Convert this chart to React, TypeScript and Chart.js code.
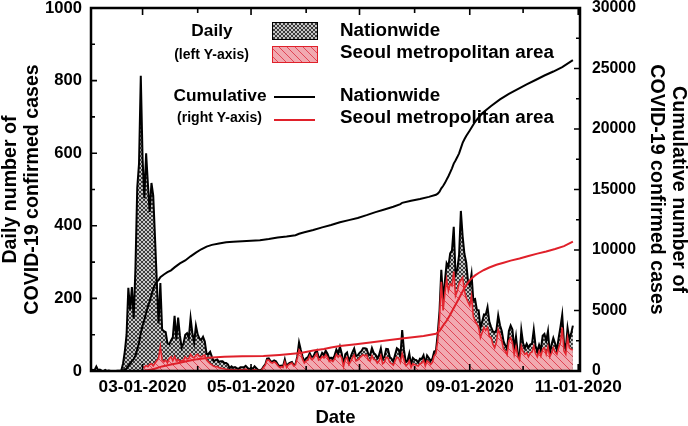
import React, { useEffect, useRef } from 'react';
import { Chart, registerables } from 'chart.js';

Chart.register(...registerables);

const FONT = "'Liberation Sans', Arial, Helvetica, sans-serif";

// x values are day numbers counted from 02-01-2020 (day 0)
const xMin = 0;
const xMax = 275;
const monthStartDays = [29, 60, 90, 121, 151, 182, 213, 243, 274];
const dateTickDays = [29, 90, 151, 213, 274];
const dateTickLabels = ['03-01-2020', '05-01-2020', '07-01-2020', '09-01-2020', '11-01-2020'];
const leftTickValues = [0, 200, 400, 600, 800, 1000];
const leftMinorTicks = [100, 300, 500, 700, 900];
const rightTickValues = [0, 5000, 10000, 15000, 20000, 25000, 30000];
const rightMinorTicks = [2500, 7500, 12500, 17500, 22500, 27500];

// Daily confirmed cases, nationwide (from day 0 = Feb 1)
const nationStartDay = 0;
const nationDaily = [
  // Feb
  1, 3, 2, 12, 2, 4, 1, 0, 3, 0, 1, 0, 0, 0, 0, 1, 1, 1, 20, 53, 100, 229, 169, 231, 144, 284, 505, 571, 813,
  // Mar
  586, 476, 600, 516, 438, 518, 483, 367, 248, 131, 242, 114, 110, 107, 76, 74, 84, 93, 152, 87, 147, 98, 64, 76, 100, 104, 91, 146, 105, 78, 125,
  // Apr
  101, 89, 86, 94, 81, 47, 47, 53, 39, 27, 30, 32, 25, 27, 27, 22, 22, 18, 8, 13, 9, 11, 8, 6, 10, 10, 10, 14, 9, 4,
  // May
  9, 6, 13, 8, 3, 2, 4, 12, 18, 34, 35, 27, 26, 29, 27, 19, 13, 15, 13, 32, 12, 20, 23, 25, 16, 19, 40, 79, 58, 39, 27,
  // Jun
  35, 38, 49, 39, 39, 51, 57, 38, 38, 50, 45, 56, 48, 34, 37, 34, 43, 59, 49, 67, 48, 17, 46, 51, 28, 39, 51, 62, 42, 43,
  // Jul
  50, 54, 63, 63, 61, 46, 44, 63, 50, 45, 35, 44, 62, 33, 39, 61, 60, 39, 34, 26, 45, 63, 59, 41, 113, 58, 25, 28, 48, 18, 36,
  // Aug
  31, 30, 23, 34, 33, 43, 20, 43, 36, 28, 34, 54, 56, 103, 166, 279, 197, 246, 297, 288, 324, 332, 397, 266, 280, 320, 441, 371, 323, 299, 248,
  // Sep
  235, 267, 195, 198, 168, 167, 119, 136, 156, 155, 176, 136, 121, 109, 106, 113, 153, 126, 110, 82, 70, 61, 110, 125, 114, 61, 95, 50, 38, 113,
  // Oct
  77, 63, 75, 64, 73, 75, 114, 69, 54, 72, 58, 97, 102, 84, 110, 47, 73, 91, 76, 58, 91, 121, 155, 77, 61, 119, 88, 103, 125,
];

// Daily confirmed cases, Seoul metropolitan area (from day 29 = Mar 1)
const seoulStartDay = 29;
const seoulDaily = [
  // Mar
  12, 10, 15, 12, 18, 20, 14, 22, 28, 35, 67, 30, 25, 30, 22, 35, 39, 28, 40, 28, 32, 26, 28, 30, 39, 33, 35, 46, 39, 36, 44,
  // Apr
  46, 40, 39, 42, 44, 30, 25, 20, 17, 13, 12, 12, 9, 8, 7, 6, 5, 4, 3, 4, 3, 4, 3, 2, 4, 3, 4, 5, 3, 2,
  // May
  3, 2, 4, 3, 1, 1, 2, 10, 16, 30, 30, 24, 22, 25, 22, 15, 10, 12, 10, 25, 10, 17, 20, 22, 14, 17, 35, 58, 50, 32, 22,
  // Jun
  28, 30, 42, 32, 34, 42, 48, 30, 33, 40, 36, 45, 38, 26, 30, 26, 34, 46, 38, 44, 36, 12, 32, 38, 18, 26, 36, 44, 28, 30,
  // Jul
  36, 40, 45, 42, 44, 30, 28, 42, 32, 30, 22, 28, 42, 20, 24, 38, 36, 24, 20, 16, 28, 38, 35, 24, 48, 30, 15, 18, 28, 10, 20,
  // Aug
  18, 16, 14, 20, 22, 30, 14, 28, 24, 18, 24, 42, 48, 85, 146, 246, 167, 214, 253, 221, 240, 235, 274, 207, 220, 242, 250, 258, 221, 202, 190,
  // Sep
  180, 207, 150, 138, 130, 120, 92, 106, 120, 112, 120, 95, 92, 74, 64, 80, 115, 101, 83, 60, 55, 45, 83, 92, 78, 45, 67, 39, 30, 69,
  // Oct
  53, 46, 50, 39, 50, 52, 69, 48, 39, 55, 41, 60, 64, 46, 67, 39, 50, 64, 52, 46, 64, 78, 120, 55, 46, 92, 64, 60, 58,
];

// Cumulative confirmed cases, nationwide (right axis)
const cumNationDays = [
  17, 18, 19, 20, 21, 22, 23, 24, 25, 26, 27, 28, 29, 30, 31, 32, 33, 34, 35, 36, 37, 38, 39, 41, 43, 45, 47, 50, 53, 56, 59,
  62, 65, 68, 72, 76, 80, 85, 90, 95, 100, 105, 110, 115, 117, 120, 125, 130, 135, 140, 145, 150, 155, 160, 165, 170, 174,
  175, 180, 185, 190, 194, 195, 196, 197, 198, 199, 200, 201, 202, 203, 204, 205, 206, 207, 208, 209, 210, 211, 212, 213,
  216, 220, 225, 230, 235, 240, 245, 250, 255, 260, 265, 271,
];
const cumNationValues = [
  31, 51, 104, 204, 433, 602, 833, 977, 1261, 1766, 2337, 3150, 3736, 4212, 4812, 5328, 5766, 6284, 6767, 7134, 7382, 7513, 7755, 7979, 8162, 8320, 8565, 8897, 9137, 9478, 9786,
  10062, 10284, 10423, 10537, 10635, 10683, 10728, 10774, 10806, 10909, 11037, 11122, 11225, 11344, 11468, 11650, 11870, 12060, 12290, 12470, 12650, 12880, 13130, 13350, 13580, 13790,
  13900, 14070, 14220, 14390, 14560, 14660, 14820, 15100, 15290, 15530, 15820, 16100, 16420, 16750, 17140, 17400, 17680, 17990, 18420, 18850, 19150, 19420, 19650, 19870,
  20600, 21300, 21900, 22450, 22900, 23300, 23680, 24050, 24420, 24750, 25120, 25690,
];

// Cumulative confirmed cases, Seoul metropolitan area (right axis)
const cumSeoulDays = [
  29, 35, 40, 45, 50, 55, 60, 66, 75, 85, 97, 106, 112, 118, 125, 131, 135, 140, 149, 157, 168, 176, 187, 194,
  196, 198, 200, 202, 204, 206, 208, 210, 212, 214, 216, 218, 221, 224, 228, 232, 236, 241, 246, 251, 256, 261, 266, 271,
];
const cumSeoulValues = [
  0, 150, 380, 530, 680, 840, 980, 1100, 1170, 1210, 1240, 1330, 1400, 1480, 1690, 1820, 1950, 2060, 2210, 2350, 2560, 2710, 2900, 3080,
  3300, 3750, 4150, 4650, 5200, 5750, 6300, 6850, 7300, 7650, 7900, 8100, 8350, 8550, 8780, 8950, 9120, 9300, 9500, 9700, 9880, 10080, 10320, 10690,
];

function makeCrossPattern(ctx: CanvasRenderingContext2D) {
  const c = document.createElement('canvas');
  c.width = 4;
  c.height = 4;
  const g = c.getContext('2d')!;
  g.fillStyle = '#c6c6c6';
  g.fillRect(0, 0, 4, 4);
  g.fillStyle = '#3a3a3a';
  for (let i = 0; i < 4; i++) {
    g.fillRect(i, i, 1, 1);
    g.fillRect(3 - i, i, 1, 1);
  }
  return ctx.createPattern(c, 'repeat')!;
}

function makeHatchPattern(ctx: CanvasRenderingContext2D) {
  const s = 8;
  const c = document.createElement('canvas');
  c.width = s;
  c.height = s;
  const g = c.getContext('2d')!;
  g.fillStyle = '#f1a9b0';
  g.fillRect(0, 0, s, s);
  g.strokeStyle = '#e04455';
  g.lineWidth = 1;
  for (const k of [-s, 0, s]) {
    g.beginPath();
    g.moveTo(k - 1, -1);
    g.lineTo(k + s + 1, s + 1);
    g.stroke();
  }
  return ctx.createPattern(c, 'repeat')!;
}

export default function App() {
  const ref = useRef<HTMLCanvasElement | null>(null);

  useEffect(() => {
    const canvas = ref.current!;
    const ctx0 = canvas.getContext('2d')!;
    const grayPattern = makeCrossPattern(ctx0);
    const pinkPattern = makeHatchPattern(ctx0);

    const nationPts = nationDaily.map((v, i) => ({ x: nationStartDay + i, y: v }));
    const seoulPts = seoulDaily.map((v, i) => ({ x: seoulStartDay + i, y: v }));
    const cumNationPts = cumNationDays.map((d, i) => ({ x: d, y: cumNationValues[i] }));
    const cumSeoulPts = cumSeoulDays.map((d, i) => ({ x: d, y: cumSeoulValues[i] }));

    const framePlugin = {
      id: 'frameTicksLegend',
      afterDraw(chart: any) {
        const { ctx, chartArea: a, scales } = chart;
        const sx = scales.x;
        const sy = scales.y;
        const sy2 = scales.y2;
        ctx.save();
        ctx.strokeStyle = '#000';
        ctx.lineWidth = 1.6;
        ctx.beginPath();
        for (const d of monthStartDays) {
          const px = sx.getPixelForValue(d);
          const major = dateTickDays.includes(d);
          const len = major ? 7 : 5;
          ctx.moveTo(px, a.bottom);
          ctx.lineTo(px, a.bottom - len);
          ctx.moveTo(px, a.top);
          ctx.lineTo(px, a.top + len);
        }
        for (const v of leftTickValues.concat(leftMinorTicks)) {
          const py = sy.getPixelForValue(v);
          const len = leftTickValues.includes(v) ? 6 : 4;
          ctx.moveTo(a.left, py);
          ctx.lineTo(a.left + len, py);
        }
        for (const v of rightTickValues.concat(rightMinorTicks)) {
          const py = sy2.getPixelForValue(v);
          const len = rightTickValues.includes(v) ? 6 : 4;
          ctx.moveTo(a.right, py);
          ctx.lineTo(a.right - len, py);
        }
        ctx.stroke();
        ctx.lineWidth = 2.5;
        ctx.strokeRect(a.left, a.top, a.right - a.left, a.bottom - a.top);

        // legend
        ctx.fillStyle = '#000';
        ctx.textBaseline = 'alphabetic';
        ctx.textAlign = 'center';
        ctx.font = `bold 17.3px ${FONT}`;
        ctx.fillText('Daily', 212, 36);
        ctx.fillText('Cumulative', 220, 100.5);
        ctx.font = `bold 14px ${FONT}`;
        ctx.fillText('(left Y-axis)', 211.5, 59);
        ctx.fillText('(right Y-axis)', 219.5, 122);

        ctx.fillStyle = grayPattern;
        ctx.fillRect(272, 22, 46, 18);
        ctx.lineWidth = 1;
        ctx.strokeStyle = '#000';
        ctx.strokeRect(272.5, 22.5, 45, 17);
        ctx.fillStyle = pinkPattern;
        ctx.fillRect(272, 46, 46, 17);
        ctx.strokeStyle = '#e0202a';
        ctx.strokeRect(272.5, 46.5, 45, 16);

        ctx.lineWidth = 2;
        ctx.strokeStyle = '#000';
        ctx.beginPath();
        ctx.moveTo(274, 97);
        ctx.lineTo(315, 97);
        ctx.stroke();
        ctx.strokeStyle = '#e0202a';
        ctx.beginPath();
        ctx.moveTo(274, 120);
        ctx.lineTo(315, 120);
        ctx.stroke();

        ctx.fillStyle = '#000';
        ctx.textAlign = 'left';
        ctx.font = `bold 18.8px ${FONT}`;
        ctx.fillText('Nationwide', 340, 35.5);
        ctx.fillText('Seoul metropolitan area', 340, 58);
        ctx.fillText('Nationwide', 340, 100.5);
        ctx.fillText('Seoul metropolitan area', 340, 122.5);
        ctx.restore();
      },
    };

    const chart = new Chart(canvas, {
      type: 'line',
      data: {
        datasets: [
          {
            label: 'Cumulative Seoul metropolitan area',
            data: cumSeoulPts,
            yAxisID: 'y2',
            borderColor: '#e0202a',
            borderWidth: 2,
            pointRadius: 0,
            fill: false,
            order: 1,
          },
          {
            label: 'Cumulative Nationwide',
            data: cumNationPts,
            yAxisID: 'y2',
            borderColor: '#000',
            borderWidth: 2,
            pointRadius: 0,
            fill: false,
            order: 2,
          },
          {
            label: 'Daily Seoul metropolitan area',
            data: seoulPts,
            yAxisID: 'y',
            borderColor: '#e3262f',
            borderWidth: 1.6,
            backgroundColor: pinkPattern,
            pointRadius: 0,
            fill: 'origin',
            order: 3,
          },
          {
            label: 'Daily Nationwide',
            data: nationPts,
            yAxisID: 'y',
            borderColor: '#000',
            borderWidth: 2,
            backgroundColor: grayPattern,
            pointRadius: 0,
            fill: 'origin',
            order: 4,
          },
        ],
      },
      options: {
        animation: false,
        responsive: false,
        devicePixelRatio: 1,
        events: [],
        layout: { autoPadding: false, padding: { top: 8, left: 0, right: 0, bottom: 0 } },
        elements: { line: { tension: 0 } },
        plugins: { legend: { display: false }, tooltip: { enabled: false } },
        scales: {
          x: {
            type: 'linear',
            min: xMin,
            max: xMax,
            grid: { display: false, drawTicks: false },
            border: { display: false },
            afterBuildTicks: (s: any) => {
              s.ticks = dateTickDays.map((v) => ({ value: v }));
            },
            afterFit: (s: any) => {
              s.height = 55;
              s.paddingLeft = 0;
              s.paddingRight = 0;
            },
            ticks: {
              autoSkip: false,
              maxRotation: 0,
              minRotation: 0,
              padding: 6,
              color: '#000',
              font: { family: FONT, size: 17.2, weight: 'bold' },
              callback: (_v: any, i: number) => dateTickLabels[i],
            },
            title: {
              display: true,
              text: 'Date',
              color: '#000',
              font: { family: FONT, size: 18.5, weight: 'bold', lineHeight: 1 },
              padding: { top: 0, bottom: -1.2 },
            },
          },
          y: {
            type: 'linear',
            position: 'left',
            min: 0,
            max: 1000,
            grid: { display: false, drawTicks: false },
            border: { display: false },
            afterBuildTicks: (s: any) => {
              s.ticks = leftTickValues.map((v) => ({ value: v }));
            },
            afterFit: (s: any) => {
              s.width = 91;
              s.paddingTop = 0;
              s.paddingBottom = 0;
            },
            ticks: {
              padding: 9,
              color: '#000',
              font: { family: FONT, size: 16.6, weight: 'bold' },
              callback: (v: any) => String(v),
            },
            title: {
              display: true,
              text: ['Daily number of', 'COVID-19 confirmed cases'],
              color: '#000',
              font: { family: FONT, size: 19.6, weight: 'bold', lineHeight: 1.12 },
              padding: { top: 0, bottom: 0 },
            },
          },
          y2: {
            type: 'linear',
            position: 'right',
            min: 0,
            max: 30000,
            grid: { display: false, drawTicks: false },
            border: { display: false },
            afterBuildTicks: (s: any) => {
              s.ticks = rightTickValues.map((v) => ({ value: v }));
            },
            afterFit: (s: any) => {
              s.width = 108;
              s.paddingTop = 0;
              s.paddingBottom = 0;
            },
            ticks: {
              padding: 12,
              color: '#000',
              font: { family: FONT, size: 15.8, weight: 'bold' },
              callback: (v: any) => String(v),
            },
            title: {
              display: true,
              text: ['Cumulative number of', 'COVID-19 confirmed cases'],
              color: '#000',
              font: { family: FONT, size: 19.6, weight: 'bold', lineHeight: 1.12 },
              padding: { top: -1, bottom: 0 },
            },
          },
        },
      } as any,
      plugins: [framePlugin],
    });
    return () => chart.destroy();
  }, []);

  return (
    <div style={{ position: 'absolute', left: 0, top: 0, width: 688, height: 426, background: '#fff' }}>
      <canvas ref={ref} width={688} height={426} style={{ display: 'block', width: 688, height: 426 }} />
    </div>
  );
}
